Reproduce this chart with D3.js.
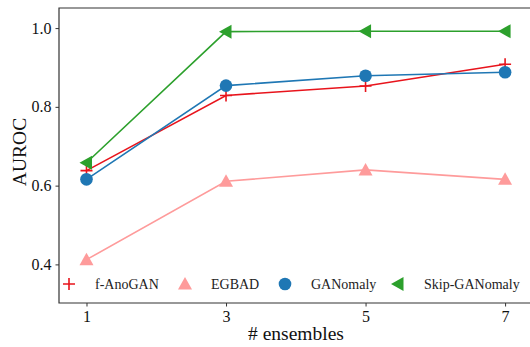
<!DOCTYPE html>
<html>
<head>
<meta charset="utf-8">
<script src="https://cdn.jsdelivr.net/npm/d3@7"></script>
<style>
  body { margin: 0; background: #fff; }
</style>
</head>
<body>
<script>
var ensembles = [1, 3, 5, 7];
var fAnoGAN = [0.638, 0.829, 0.853, 0.908];
var egbad = [0.412, 0.611, 0.640, 0.616];
var ganomaly = [0.616, 0.854, 0.879, 0.888];
var skipGanomaly = [0.658, 0.991, 0.992, 0.992];
var yTicks = [0.4, 0.6, 0.8, 1.0];

var series = [
  { name: 'f-AnoGAN', values: fAnoGAN, color: '#e8141c', marker: 'plus' },
  { name: 'EGBAD', values: egbad, color: '#fe9b9b', marker: 'up' },
  { name: 'GANomaly', values: ganomaly, color: '#1f77b4', marker: 'circle' },
  { name: 'Skip-GANomaly', values: skipGanomaly, color: '#2ca02c', marker: 'left' }
];

var serif = "'Liberation Serif'";
var width = 530, height = 347;
var margin = { left: 59, top: 8, right: -3, bottom: 44 };

var svg = d3.select('body').append('svg').attr('width', width).attr('height', height);

var x = d3.scaleLinear().domain([0.606, 7.4]).range([margin.left, width - margin.right]);
var y = d3.scaleLinear().domain([0.302, 1.051]).range([height - margin.bottom, margin.top]);

// spines (right one is off the picture)
var frame = svg.append('g').attr('stroke', '#333').attr('stroke-width', 1.2).attr('fill', 'none');
frame.append('path').attr('d', 'M' + (width + 5) + ',' + y(1.051) + 'H' + x(0.606) + 'V' + y(0.302) + 'H' + (width + 5));

// axes
var xAxis = svg.append('g')
  .attr('transform', 'translate(0,' + y(0.302) + ')')
  .call(d3.axisBottom(x).tickValues(ensembles).tickFormat(d3.format('d')).tickSize(3.5).tickPadding(4));
var yAxis = svg.append('g')
  .attr('transform', 'translate(' + x(0.606) + ',0)')
  .call(d3.axisLeft(y).tickValues(yTicks).tickFormat(d3.format('.1f')).tickSize(3.5).tickPadding(4));
[xAxis, yAxis].forEach(function (a) {
  a.attr('font-family', null);
  a.select('.domain').remove();
  a.selectAll('line').attr('stroke', '#333');
  a.selectAll('text').attr('font-size', 16).attr('fill', '#111').style('font-family', serif);
});

svg.append('text').attr('x', 296).attr('y', 340).attr('text-anchor', 'middle')
  .style('font-family', serif).attr('font-size', 19.5).attr('fill', '#111').text('# ensembles');
svg.append('text').attr('transform', 'translate(25.5,152) rotate(-90)')
  .style('font-family', serif).attr('text-anchor', 'middle').attr('font-size', 19.5).attr('fill', '#111').text('AUROC');

function drawMarker(g, type, color) {
  if (type === 'plus') {
    g.append('path').attr('d', 'M-6,0H6M0,-6V6').attr('stroke', color).attr('stroke-width', 1.6).attr('fill', 'none');
  } else if (type === 'up') {
    g.append('path').attr('d', 'M0,-7L7,5.5L-7,5.5Z').attr('fill', color);
  } else if (type === 'circle') {
    g.append('circle').attr('r', 6.3).attr('fill', color);
  } else if (type === 'left') {
    g.append('path').attr('d', 'M-7,0L5.5,-7L5.5,7Z').attr('fill', color);
  }
}

var line = d3.line().x(function (d) { return x(d[0]); }).y(function (d) { return y(d[1]); });

series.forEach(function (s) {
  var pts = ensembles.map(function (e, i) { return [e, s.values[i]]; });
  svg.append('path').datum(pts).attr('d', line).attr('fill', 'none')
    .attr('stroke', s.color).attr('stroke-width', 1.6);
  pts.forEach(function (p) {
    var g = svg.append('g').attr('transform', 'translate(' + x(p[0]) + ',' + y(p[1]) + ')');
    drawMarker(g, s.marker, s.color);
  });
});

// legend
var legendX = [69, 185, 285, 398];
series.forEach(function (s, i) {
  var g = svg.append('g').attr('transform', 'translate(' + legendX[i] + ',284)');
  drawMarker(g, s.marker, s.color);
  g.append('text').attr('x', 26).attr('y', 5).style('font-family', serif)
    .attr('font-size', 14).attr('fill', '#222').text(s.name);
});
</script>
</body>
</html>
